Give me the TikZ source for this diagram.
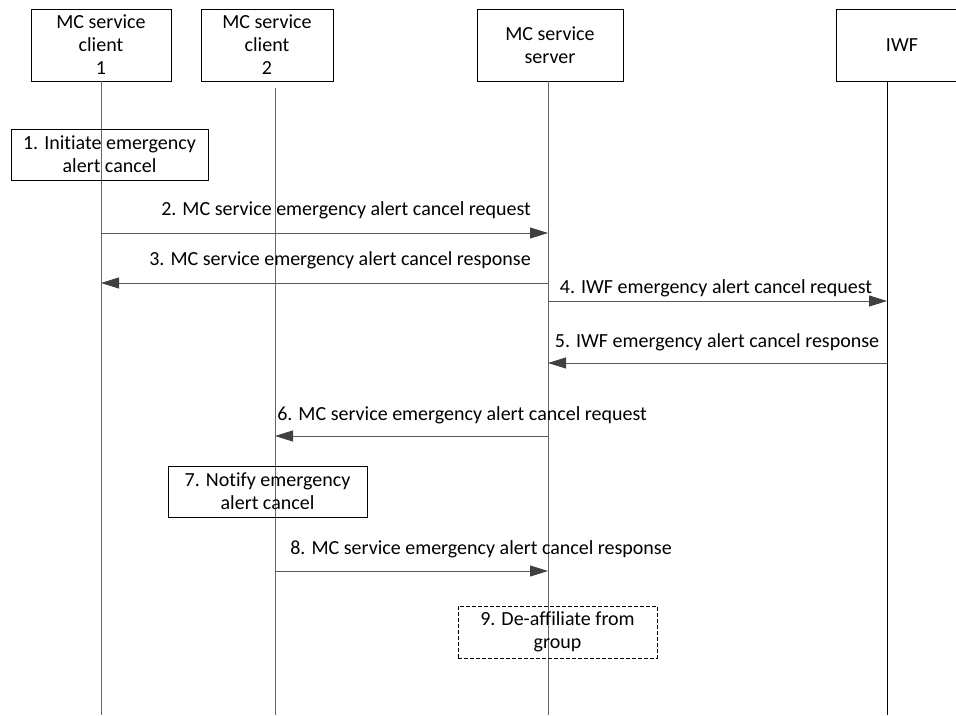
\documentclass[tikz,border=0pt]{standalone}
\usepackage{fontspec}
\setmainfont{Carlito}[Ligatures={NoCommon}]
\usetikzlibrary{arrows.meta}
\begin{document}
\begin{tikzpicture}[x=1pt,y=-1pt,
  txt/.style={font=\fontsize{20}{23}\selectfont, text=black},
  box/.style={txt, draw=black, line width=0.8pt, align=center, inner sep=0pt},
  life/.style={draw=black!60, line width=0.9pt},
  msg/.style={draw=black!65, line width=0.9pt, -{Triangle[length=18pt,width=11pt,fill=black!75,color=black!75]}},
  lbl/.style={txt, inner sep=0pt}
]
\useasboundingbox (0,0) rectangle (956,715);
\fill[white] (0,0) rectangle (956,715);

% participants
\node[box, minimum width=140pt, minimum height=72pt] (c1) at (101,45) {MC service\\client\\1};
\node[box, minimum width=132pt, minimum height=72pt] (c2) at (267,45) {MC service\\client\\2};
\node[box, minimum width=146pt, minimum height=72pt] (srv) at (550,45) {MC service\\server};
\node[box, minimum width=132pt, minimum height=72pt] (iwf) at (902,45) {IWF};

% lifeline ends
\coordinate (c1end) at (101,715);
\coordinate (c2top) at (275,88);
\coordinate (c2end) at (275,715);
\coordinate (srvend) at (548,715);
\coordinate (iwftop) at (887,81);
\coordinate (iwfend) at (887,715);

\draw[life] (c1.south) -- (c1end);
\draw[life] (c2top) -- (c2end);
\draw[life] (srv.south -| srvend) -- (srvend);
\draw[line width=0.9pt, black] (iwftop) -- (iwfend);

% steps
\node[box, minimum width=197pt, minimum height=51pt] (s1) at (109.5,154.5) {1. Initiate emergency\\alert cancel};
\node[box, minimum width=199pt, minimum height=51pt] (s7) at (267.5,491.5) {7. Notify emergency\\alert cancel};
\node[box, dashed, dash pattern=on 4pt off 2pt, minimum width=199pt, minimum height=52pt] (s9) at (557.5,632) {9. De-affiliate from\\group};

% message end points
\coordinate (m2a) at (101,233);  \coordinate (m2b) at (548,233);
\coordinate (m3a) at (548,283);  \coordinate (m3b) at (101,283);
\coordinate (m4a) at (548,301);  \coordinate (m4b) at (887,301);
\coordinate (m5a) at (887,363);  \coordinate (m5b) at (548,363);
\coordinate (m6a) at (548,436);  \coordinate (m6b) at (275,436);
\coordinate (m8a) at (275,571);  \coordinate (m8b) at (548,571);

\draw[msg] (m2a) -- (m2b);
\draw[msg] (m3a) -- (m3b);
\draw[msg] (m4a) -- (m4b);
\draw[msg] (m5a) -- (m5b);
\draw[msg] (m6a) -- (m6b);
\draw[msg] (m8a) -- (m8b);

% labels
\node[lbl] (l2) at (346,210) {2. MC service emergency alert cancel request};
\node[lbl] (l3) at (340,260) {3. MC service emergency alert cancel response};
\node[lbl] (l4) at (716,288) {4. IWF emergency alert cancel request};
\node[lbl] (l5) at (717,342) {5. IWF emergency alert cancel response};
\node[lbl] (l6) at (462,415) {6. MC service emergency alert cancel request};
\node[lbl] (l8) at (481,549) {8. MC service emergency alert cancel response};
\end{tikzpicture}
\end{document}
